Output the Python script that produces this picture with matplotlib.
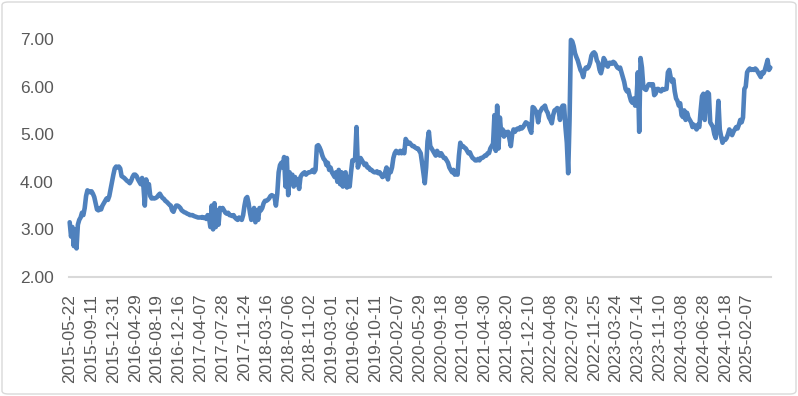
import matplotlib
matplotlib.use("Agg")
from matplotlib import pyplot as plt
from matplotlib.patches import FancyBboxPatch

# weekly values, one row per 16 points (one x label each)
values = [
    3.15, 2.85, 3.05, 2.65, 3.0, 2.6, 3.1, 3.2, 3.25, 3.35, 3.3, 3.45, 3.7, 3.82, 3.8, 3.78,
    3.8, 3.75, 3.68, 3.55, 3.42, 3.4, 3.45, 3.42, 3.5, 3.55, 3.6, 3.65, 3.62, 3.7, 3.85, 4.0,
    4.15, 4.28, 4.32, 4.3, 4.32, 4.28, 4.12, 4.1, 4.08, 4.05, 4.02, 4.0, 3.97, 4.02, 4.1, 4.15,
    4.15, 4.12, 4.05, 4.0, 3.95, 4.08, 3.9, 3.5, 4.05, 3.85, 3.95, 3.7, 3.65, 3.66, 3.65, 3.66,
    3.68, 3.72, 3.75, 3.7, 3.66, 3.64, 3.6, 3.58, 3.55, 3.52, 3.5, 3.4, 3.37, 3.45, 3.5, 3.5,
    3.48, 3.45, 3.4, 3.38, 3.36, 3.35, 3.33, 3.32, 3.3, 3.3, 3.3, 3.28, 3.27, 3.26, 3.25, 3.25,
    3.25, 3.26, 3.24, 3.25, 3.22, 3.3, 3.25, 3.05, 3.5, 3.0, 3.55, 3.05, 3.4, 3.1, 3.45, 3.42,
    3.45, 3.4, 3.35, 3.33, 3.35, 3.3, 3.3, 3.28, 3.3, 3.25, 3.22, 3.2, 3.25, 3.22, 3.2, 3.3,
    3.5, 3.65, 3.68, 3.55, 3.35, 3.2, 3.25, 3.45, 3.15, 3.4, 3.2, 3.45, 3.4, 3.45, 3.55, 3.6,
    3.6, 3.62, 3.65, 3.7, 3.72, 3.7, 3.68, 3.5, 3.75, 4.2, 4.35, 4.4, 4.3, 4.52, 3.9, 4.5,
    3.72, 4.2, 4.0, 4.15, 3.9, 4.1, 3.95, 4.05, 3.85, 4.1, 4.15, 4.18, 4.2, 4.15, 4.18, 4.2,
    4.2, 4.22, 4.25, 4.2, 4.25, 4.75, 4.77, 4.72, 4.65, 4.55, 4.48, 4.45, 4.35, 4.4, 4.25, 4.3,
    4.2, 4.15, 4.1, 4.2, 4.0, 4.25, 3.95, 4.2, 3.9, 4.15, 4.2, 3.88, 4.1, 3.9, 4.2, 4.45,
    4.45, 4.5, 5.15, 4.3, 4.4, 4.5, 4.45, 4.4, 4.35, 4.38, 4.3, 4.3, 4.25, 4.25, 4.22, 4.2,
    4.2, 4.22, 4.18, 4.2, 4.15, 4.1, 4.12, 4.2, 4.3, 4.05, 4.25, 4.2, 4.3, 4.5, 4.6, 4.65,
    4.62, 4.6, 4.65, 4.6, 4.65, 4.6, 4.9, 4.85, 4.8, 4.82, 4.78, 4.75, 4.75, 4.72, 4.7, 4.7,
    4.65, 4.6, 4.4, 4.18, 3.97, 4.3, 4.85, 5.05, 4.75, 4.7, 4.65, 4.6, 4.55, 4.65, 4.6, 4.55,
    4.6, 4.55, 4.5, 4.5, 4.45, 4.4, 4.3, 4.25, 4.2, 4.25, 4.15, 4.2, 4.15, 4.55, 4.82, 4.75,
    4.75, 4.72, 4.7, 4.65, 4.6, 4.62, 4.55, 4.5, 4.48, 4.45, 4.45, 4.48, 4.45, 4.5, 4.5, 4.52,
    4.55, 4.55, 4.6, 4.6, 4.7, 4.75, 4.8, 5.4, 4.65, 5.6, 4.7, 5.35, 5.0, 5.1, 4.95, 5.05,
    5.0, 5.05, 4.9, 4.75, 5.0, 5.1, 5.05, 5.1, 5.12, 5.1, 5.15, 5.12, 5.15, 5.2, 5.25, 5.23,
    5.2, 5.1, 5.03, 5.57, 5.55, 5.5, 5.45, 5.25, 5.45, 5.5, 5.55, 5.57, 5.6, 5.5, 5.45, 5.35,
    5.3, 5.23, 5.4, 5.5, 5.52, 5.55, 5.5, 5.3, 5.55, 5.6, 5.6, 5.15, 4.82, 4.18, 5.3, 6.98,
    6.95, 6.85, 6.7, 6.62, 6.55, 6.45, 6.35, 6.3, 6.2, 6.35, 6.4, 6.38, 6.42, 6.5, 6.65, 6.7,
    6.72, 6.68, 6.55, 6.5, 6.35, 6.28, 6.4, 6.6, 6.55, 6.45, 6.42, 6.5, 6.5, 6.48, 6.52, 6.5,
    6.45, 6.4, 6.38, 6.4, 6.3, 6.2, 6.1, 5.95, 5.9, 5.93, 5.8, 5.7, 5.66, 5.75, 5.6, 5.7,
    6.3, 5.05, 6.6, 6.4, 6.0, 5.95, 5.93, 6.0, 6.05, 6.05, 6.02, 6.05, 5.82, 5.85, 5.95, 5.95,
    5.92, 5.9, 5.95, 5.93, 5.95, 5.95, 6.3, 6.35, 6.2, 6.1, 6.15, 5.9, 5.75, 5.7, 5.6, 5.65,
    5.4, 5.36, 5.5, 5.3, 5.45, 5.35, 5.3, 5.25, 5.15, 5.2, 5.15, 5.1, 5.2, 5.15, 5.5, 5.8,
    5.85, 5.3, 5.8, 5.88, 5.85, 5.25, 5.2, 5.15, 5.0, 4.92, 5.2, 5.7, 5.1, 4.95, 4.82, 4.9,
    4.88, 4.92, 5.0, 5.1, 5.05, 4.98, 5.05, 5.1, 5.15, 5.12, 5.2, 5.3, 5.25, 5.35, 5.95, 6.0,
    6.3, 6.35, 6.38, 6.35, 6.36, 6.35, 6.38, 6.35, 6.3, 6.25, 6.2, 6.3, 6.28, 6.35, 6.45, 6.56,
    6.35, 6.4,
]

tick_labels = [
    "2015-05-22", "2015-09-11", "2015-12-31", "2016-04-29", "2016-08-19", "2016-12-16",
    "2017-04-07", "2017-07-28", "2017-11-24", "2018-03-16", "2018-07-06", "2018-11-02",
    "2019-03-01", "2019-06-21", "2019-10-11", "2020-02-07", "2020-05-29", "2020-09-18",
    "2021-01-08", "2021-04-30", "2021-08-20", "2021-12-10", "2022-04-08", "2022-07-29",
    "2022-11-25", "2023-03-24", "2023-07-14", "2023-11-10", "2024-03-08", "2024-06-28",
    "2024-10-18", "2025-02-07",
]
label_step = 16

plt.rcParams['font.family'] = ['Liberation Sans', 'DejaVu Sans']

fig = plt.figure(figsize=(7.98, 3.96), dpi=100)
ax = fig.add_axes([69 / 798, 1 - 277 / 396, 702 / 798, 238 / 396])

xs = list(range(len(values)))
ax.plot(xs, values, color='#4F81BD', linewidth=3.3, solid_joinstyle='round',
        solid_capstyle='round', clip_on=False)

ax.set_xlim(-0.5, len(values) - 0.5)
ax.set_ylim(2, 7)
ax.set_yticks([2, 3, 4, 5, 6, 7])
ax.set_yticklabels(["%.2f" % v for v in [2, 3, 4, 5, 6, 7]])
ax.set_xticks([i * label_step for i in range(len(tick_labels))])
ax.set_xticklabels(tick_labels, rotation=90)

for side in ['top', 'right', 'left']:
    ax.spines[side].set_visible(False)
ax.spines['bottom'].set_color('#d9d9d9')
ax.spines['bottom'].set_linewidth(1.5)
ax.tick_params(axis='both', length=0, labelsize=12.5, colors='#595959')
ax.tick_params(axis='y', pad=11)
ax.tick_params(axis='x', pad=12)

# chart area border
fig.patches.append(FancyBboxPatch((2 / 798, 2 / 396), 794 / 798, 392 / 396,
                                  boxstyle="round,pad=0,rounding_size=0.008",
                                  transform=fig.transFigure, fill=False,
                                  edgecolor='#d9d9d9', linewidth=1.0))

fig.savefig("out.png", dpi=100)
